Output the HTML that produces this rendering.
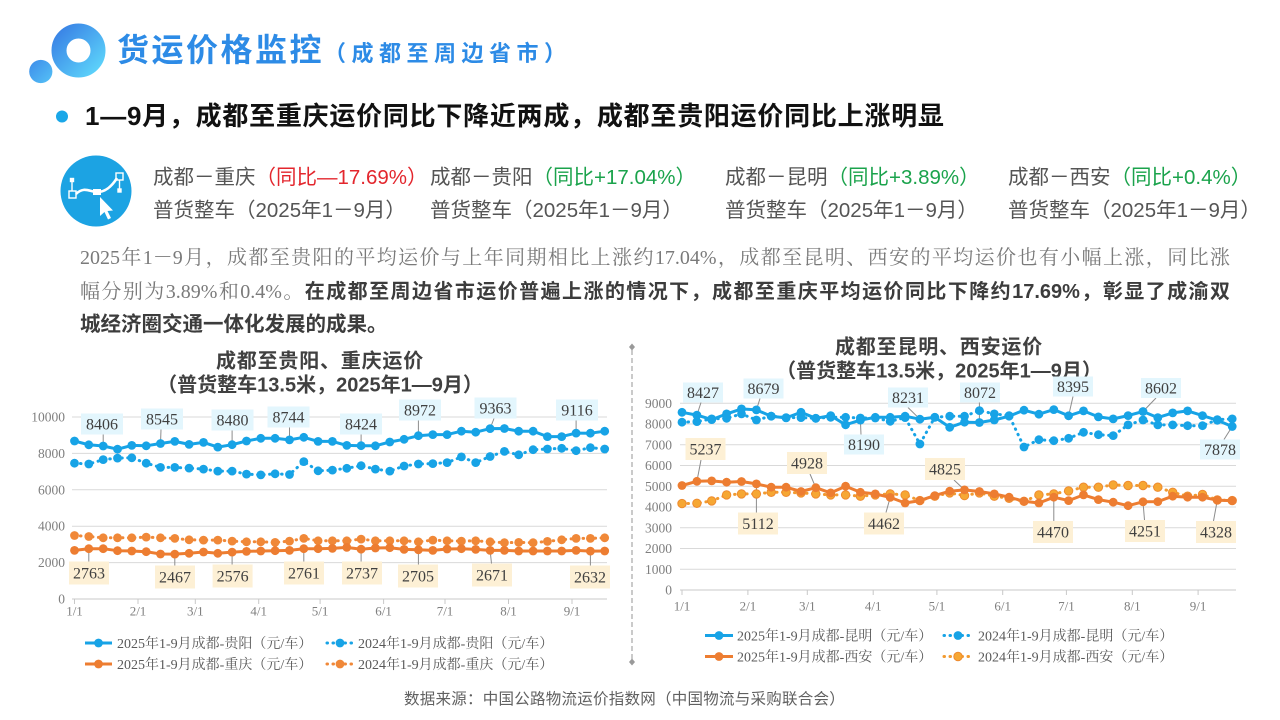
<!DOCTYPE html>
<html><head><meta charset="utf-8"><style>
body{margin:0;background:#fff}
#p{position:relative;width:1280px;height:720px;overflow:hidden;background:#fff;font-family:"Liberation Sans","Noto Sans CJK SC",sans-serif}
.a{position:absolute;white-space:nowrap}
.info{font-size:20.5px;line-height:26px;color:#555}
.red{color:#E3262D}.grn{color:#1BA34C}
.par{position:absolute;left:80px;width:1150px;font-size:20px;line-height:30px;white-space:nowrap}
.rg{font-family:"Liberation Serif","Noto Serif CJK SC",serif;color:#7a7a7a}
.bd{font-family:"Liberation Sans","Noto Sans CJK SC",sans-serif;font-weight:bold;color:#3c3c3c}
</style></head><body><div id="p">
<svg width="1280" height="720" style="position:absolute;left:0;top:0" xmlns="http://www.w3.org/2000/svg">
<defs>
<linearGradient id="g1" x1="0" y1="0" x2="1" y2="1"><stop offset="0" stop-color="#3A84E6"/><stop offset="1" stop-color="#5CD2FA"/></linearGradient>
<linearGradient id="g2" x1="0" y1="0" x2="1" y2="1"><stop offset="0" stop-color="#3D8CEA"/><stop offset="1" stop-color="#55C2F6"/></linearGradient>
<marker id="mB" viewBox="0 0 10 10" refX="5" refY="5" markerWidth="10" markerHeight="10" markerUnits="userSpaceOnUse"><circle cx="5" cy="5" r="4.4" fill="#17A3E6"/></marker>
<marker id="mO" viewBox="0 0 10 10" refX="5" refY="5" markerWidth="10" markerHeight="10" markerUnits="userSpaceOnUse"><circle cx="5" cy="5" r="4.4" fill="#ED7D31"/></marker>
<marker id="mOl" viewBox="0 0 10 10" refX="5" refY="5" markerWidth="10" markerHeight="10" markerUnits="userSpaceOnUse"><circle cx="5" cy="5" r="4.4" fill="#F08838"/></marker>
<marker id="mOr" viewBox="0 0 10 10" refX="5" refY="5" markerWidth="10" markerHeight="10" markerUnits="userSpaceOnUse"><circle cx="5" cy="5" r="4.2" fill="#F6A733" stroke="#EE8A2F" stroke-width="1"/></marker>
</defs>

<!-- logo -->
<circle cx="78.5" cy="50.5" r="19.5" fill="none" stroke="url(#g1)" stroke-width="15"/>
<circle cx="40.8" cy="71.5" r="11.6" fill="url(#g2)"/>
<circle cx="62" cy="116.5" r="6" fill="#1AA7E8"/>

<!-- info icon -->
<circle cx="96" cy="191" r="35.5" fill="#1CA3E3"/>
<g stroke="#fff" fill="none" stroke-width="1.4">
<path d="M76 194 C 84 186, 90 192, 97 192 C 106 192, 112 186, 117 178" stroke-width="2.6"/>
<line x1="72" y1="182" x2="72" y2="191"/>
<rect x="69" y="191" width="7" height="7"/>
<rect x="70.5" y="178.5" width="3" height="3" fill="#fff"/>
<rect x="116" y="173" width="7" height="7"/>
<line x1="119.5" y1="180" x2="119.5" y2="189"/>
<rect x="118" y="189" width="3" height="3" fill="#fff"/>
</g>
<rect x="93" y="189" width="8" height="6" fill="#fff"/>
<polygon points="100,197 100,216 104.5,212 108,219.5 111,218 107.5,211 113,210.5" fill="#fff"/>

<!-- divider -->
<line x1="632" y1="350" x2="632" y2="659" stroke="#A6A6A6" stroke-width="1.2" stroke-dasharray="5 3"/>
<polygon points="632,343.5 635,347 632,350.5 629,347" fill="#999"/>
<polygon points="632,658.5 635,662 632,665.5 629,662" fill="#999"/>

<!-- LEFT CHART -->
<g font-family="Liberation Sans, Noto Sans CJK SC, sans-serif" font-weight="bold" font-size="20" fill="#404040" text-anchor="middle">
<text x="320" y="367.5" letter-spacing="0.8">成都至贵阳、重庆运价</text>
<text x="320" y="391.5">（普货整车13.5米，2025年1—9月）</text>
<text x="939" y="353.5" letter-spacing="0.8">成都至昆明、西安运价</text>
<text x="939" y="377.5">（普货整车13.5米，2025年1—9月）</text>
</g>
<g stroke="#D9D9D9" stroke-width="1">
<line x1="72" y1="417" x2="607" y2="417"/>
<line x1="72" y1="453.4" x2="607" y2="453.4"/>
<line x1="72" y1="489.8" x2="607" y2="489.8"/>
<line x1="72" y1="526.2" x2="607" y2="526.2"/>
<line x1="72" y1="562.6" x2="607" y2="562.6"/>
</g>
<g stroke="#C8C8C8" stroke-width="1">
<line x1="72" y1="599" x2="607" y2="599"/>
<line x1="74.5" y1="599" x2="74.5" y2="604"/><line x1="138" y1="599" x2="138" y2="604"/><line x1="195.3" y1="599" x2="195.3" y2="604"/><line x1="258.7" y1="599" x2="258.7" y2="604"/><line x1="320.1" y1="599" x2="320.1" y2="604"/><line x1="383.6" y1="599" x2="383.6" y2="604"/><line x1="445" y1="599" x2="445" y2="604"/><line x1="508.5" y1="599" x2="508.5" y2="604"/><line x1="572" y1="599" x2="572" y2="604"/>
</g>
<g font-family="Liberation Serif, serif" font-size="13.5" fill="#7F7F7F" text-anchor="end">
<text x="65" y="421.5">10000</text><text x="65" y="457.9">8000</text><text x="65" y="494.3">6000</text><text x="65" y="530.7">4000</text><text x="65" y="567.1">2000</text><text x="65" y="603.5">0</text>
</g>
<g font-family="Liberation Serif, serif" font-size="13" fill="#7F7F7F" text-anchor="middle">
<text x="74.5" y="615.5">1/1</text><text x="138" y="615.5">2/1</text><text x="195.3" y="615.5">3/1</text><text x="258.7" y="615.5">4/1</text><text x="320.1" y="615.5">5/1</text><text x="383.6" y="615.5">6/1</text><text x="445" y="615.5">7/1</text><text x="508.5" y="615.5">8/1</text><text x="572" y="615.5">9/1</text>
</g>
<!-- left leaders -->
<g stroke="#8C8C8C" stroke-width="1">
<line x1="103.2" y1="434.5" x2="103.2" y2="446"/><line x1="161" y1="429.5" x2="160.5" y2="443.5"/><line x1="232.1" y1="430.5" x2="232.1" y2="444.7"/><line x1="289.5" y1="427.5" x2="289.5" y2="439.9"/><line x1="361.1" y1="434.5" x2="361.1" y2="445.7"/><line x1="418.4" y1="420.5" x2="418.4" y2="435.7"/><line x1="494" y1="418.5" x2="490.1" y2="428.6"/><line x1="576.1" y1="420.5" x2="576.1" y2="433.1"/>
<line x1="88.8" y1="548.7" x2="88.8" y2="561.5"/><line x1="174.8" y1="554.1" x2="174.8" y2="565.5"/><line x1="232.1" y1="552.1" x2="232.1" y2="564.5"/><line x1="303.8" y1="548.7" x2="303.8" y2="561.5"/><line x1="361.1" y1="549.2" x2="361.1" y2="561.5"/><line x1="418.4" y1="549.8" x2="418.4" y2="564.5"/><line x1="490.1" y1="550.4" x2="491.5" y2="563.5"/><line x1="590.4" y1="551.1" x2="590.4" y2="565.5"/>
</g>
<g fill="none" stroke-linejoin="round">
<polyline stroke="#F08838" stroke-width="3" stroke-dasharray="0.5 5.5" stroke-linecap="round" marker-start="url(#mOl)" marker-mid="url(#mOl)" marker-end="url(#mOl)" points="74.5,535.5 88.8,536.5 103.2,537.8 117.5,537.8 131.8,537.8 146.2,537.1 160.5,537.8 174.8,538.4 189.1,539.8 203.5,540.1 217.8,540.1 232.1,541.1 246.5,541.8 260.8,541.8 275.1,542.4 289.5,541.1 303.8,538.4 318.1,540.8 332.4,540.8 346.8,540.8 361.1,539.1 375.4,540.8 389.8,540.8 404.1,540.8 418.4,541.8 432.8,540.1 447.1,540.8 461.4,541.1 475.7,540.8 490.1,541.8 504.4,542.7 518.7,542.4 533.1,542.7 547.4,541.4 561.7,539.8 576.1,538.4 590.4,538.4 604.7,537.8"/>
<polyline stroke="#ED7D31" stroke-width="3" marker-start="url(#mO)" marker-mid="url(#mO)" marker-end="url(#mO)" points="74.5,550.4 88.8,548.7 103.2,548.7 117.5,550.7 131.8,551.0 146.2,551.7 160.5,554.0 174.8,554.1 189.1,553.3 203.5,552.0 217.8,553.3 232.1,552.1 246.5,551.4 260.8,551.0 275.1,550.7 289.5,550.4 303.8,548.7 318.1,548.7 332.4,548.4 346.8,547.4 361.1,549.2 375.4,548.0 389.8,547.7 404.1,549.4 418.4,549.8 432.8,550.4 447.1,549.0 461.4,548.7 475.7,549.4 490.1,550.4 504.4,550.4 518.7,551.0 533.1,551.0 547.4,551.0 561.7,551.0 576.1,550.4 590.4,551.1 604.7,551.0"/>
<polyline stroke="#17A3E6" stroke-width="3" stroke-dasharray="0.5 5.5" stroke-linecap="round" marker-start="url(#mB)" marker-mid="url(#mB)" marker-end="url(#mB)" points="74.5,463.2 88.8,464.0 103.2,459.6 117.5,458.1 131.8,457.8 146.2,463.2 160.5,467.4 174.8,467.4 189.1,468.1 203.5,469.1 217.8,471.1 232.1,471.1 246.5,474.1 260.8,474.9 275.1,473.8 289.5,474.5 303.8,461.6 318.1,470.8 332.4,470.1 346.8,468.3 361.1,465.7 375.4,469.1 389.8,471.1 404.1,466.0 418.4,464.0 432.8,463.6 447.1,462.6 461.4,456.9 475.7,462.6 490.1,456.5 504.4,451.4 518.7,454.8 533.1,449.7 547.4,449.0 561.7,448.3 576.1,450.7 590.4,447.7 604.7,449.0"/>
<polyline stroke="#17A3E6" stroke-width="3" marker-start="url(#mB)" marker-mid="url(#mB)" marker-end="url(#mB)" points="74.5,441.0 88.8,444.8 103.2,446.0 117.5,449.2 131.8,445.4 146.2,445.8 160.5,443.5 174.8,441.4 189.1,444.4 203.5,442.4 217.8,447.1 232.1,444.7 246.5,441.0 260.8,438.3 275.1,438.3 289.5,439.9 303.8,437.3 318.1,441.4 332.4,441.4 346.8,445.4 361.1,445.7 375.4,445.8 389.8,442.0 404.1,439.3 418.4,435.7 432.8,434.6 447.1,434.6 461.4,431.2 475.7,432.2 490.1,428.6 504.4,428.5 518.7,431.2 533.1,431.2 547.4,436.6 561.7,436.6 576.1,433.1 590.4,433.2 604.7,431.2"/>
</g>
<g fill="#E3F6FD">
<rect x="81" y="413.5" width="42" height="21"/><rect x="141" y="408.5" width="42" height="21"/><rect x="211.5" y="409.5" width="42" height="21"/><rect x="267.5" y="406.5" width="42" height="21"/><rect x="340" y="413.5" width="42" height="21"/><rect x="399" y="399.5" width="42" height="21"/><rect x="474.5" y="397.5" width="42" height="21"/><rect x="556" y="399.5" width="42" height="21"/>
</g>
<g fill="#FDF0D5">
<rect x="69" y="561.5" width="40" height="23"/><rect x="155" y="565.5" width="40" height="23"/><rect x="212.6" y="564.5" width="40" height="23"/><rect x="284" y="561.5" width="40" height="23"/><rect x="342" y="561.5" width="40" height="23"/><rect x="398" y="564.5" width="40" height="23"/><rect x="472" y="563.5" width="40" height="23"/><rect x="570" y="565.5" width="40" height="23"/>
</g>
<g font-family="Liberation Serif, serif" font-size="16" fill="#404040" text-anchor="middle">
<text x="102" y="429.5">8406</text><text x="162" y="424.5">8545</text><text x="232.5" y="425.5">8480</text><text x="288.5" y="422.5">8744</text><text x="361" y="429.5">8424</text><text x="420" y="415.5">8972</text><text x="495.5" y="413.5">9363</text><text x="577" y="415.5">9116</text>
<text x="89" y="578.5">2763</text><text x="175" y="582.5">2467</text><text x="232.6" y="581.5">2576</text><text x="304" y="578.5">2761</text><text x="362" y="578.5">2737</text><text x="418" y="581.5">2705</text><text x="492" y="580.5">2671</text><text x="590" y="582.5">2632</text>
</g>
<!-- left legend -->
<line x1="85" y1="643" x2="112" y2="643" stroke="#17A3E6" stroke-width="3"/><circle cx="98.5" cy="643" r="4.4" fill="#17A3E6"/>
<line x1="327" y1="643" x2="353" y2="643" stroke="#17A3E6" stroke-width="3" stroke-dasharray="0.5 5.5" stroke-linecap="round"/><circle cx="340" cy="643" r="4.4" fill="#17A3E6"/>
<line x1="85" y1="664" x2="112" y2="664" stroke="#ED7D31" stroke-width="3"/><circle cx="98.5" cy="664" r="4.4" fill="#ED7D31"/>
<line x1="327" y1="664" x2="353" y2="664" stroke="#F08838" stroke-width="3" stroke-dasharray="0.5 5.5" stroke-linecap="round"/><circle cx="340" cy="664" r="4.4" fill="#F08838"/>
<g font-family="Liberation Serif, Noto Serif CJK SC, serif" font-size="14" fill="#595959">
<text x="117" y="648">2025年1-9月成都-贵阳（元/车）</text><text x="358" y="648">2024年1-9月成都-贵阳（元/车）</text>
<text x="117" y="669">2025年1-9月成都-重庆（元/车）</text><text x="358" y="669">2024年1-9月成都-重庆（元/车）</text>
</g>

<!-- RIGHT CHART -->
<g stroke="#D9D9D9" stroke-width="1">
<line x1="680" y1="403.25" x2="1236" y2="403.25"/><line x1="680" y1="424" x2="1236" y2="424"/><line x1="680" y1="444.75" x2="1236" y2="444.75"/><line x1="680" y1="465.5" x2="1236" y2="465.5"/><line x1="680" y1="486.25" x2="1236" y2="486.25"/><line x1="680" y1="507" x2="1236" y2="507"/><line x1="680" y1="527.75" x2="1236" y2="527.75"/><line x1="680" y1="548.5" x2="1236" y2="548.5"/><line x1="680" y1="569.25" x2="1236" y2="569.25"/>
</g>
<g stroke="#C8C8C8" stroke-width="1">
<line x1="680" y1="590" x2="1236" y2="590"/>
<line x1="682" y1="590" x2="682" y2="595"/><line x1="747.9" y1="590" x2="747.9" y2="595"/><line x1="807.3" y1="590" x2="807.3" y2="595"/><line x1="873.2" y1="590" x2="873.2" y2="595"/><line x1="936.9" y1="590" x2="936.9" y2="595"/><line x1="1002.7" y1="590" x2="1002.7" y2="595"/><line x1="1066.4" y1="590" x2="1066.4" y2="595"/><line x1="1132.3" y1="590" x2="1132.3" y2="595"/><line x1="1198.1" y1="590" x2="1198.1" y2="595"/>
</g>
<g font-family="Liberation Serif, serif" font-size="13.5" fill="#7F7F7F" text-anchor="end">
<text x="672" y="407.75">9000</text><text x="672" y="428.5">8000</text><text x="672" y="449.25">7000</text><text x="672" y="470">6000</text><text x="672" y="490.75">5000</text><text x="672" y="511.5">4000</text><text x="672" y="532.25">3000</text><text x="672" y="553">2000</text><text x="672" y="573.75">1000</text><text x="672" y="594.5">0</text>
</g>
<g font-family="Liberation Serif, serif" font-size="13" fill="#7F7F7F" text-anchor="middle">
<text x="682" y="610.5">1/1</text><text x="747.9" y="610.5">2/1</text><text x="807.3" y="610.5">3/1</text><text x="873.2" y="610.5">4/1</text><text x="936.9" y="610.5">5/1</text><text x="1002.7" y="610.5">6/1</text><text x="1066.4" y="610.5">7/1</text><text x="1132.3" y="610.5">8/1</text><text x="1198.1" y="610.5">9/1</text>
</g>
<g stroke="#8C8C8C" stroke-width="1">
<line x1="701" y1="402.5" x2="696.9" y2="415.1"/><line x1="760" y1="398.5" x2="756.4" y2="409.9"/><line x1="861" y1="434.5" x2="860.4" y2="420.1"/><line x1="908" y1="407.5" x2="919.9" y2="419.2"/><line x1="979.4" y1="402.5" x2="979.4" y2="422.5"/><line x1="1073" y1="396.5" x2="1068.6" y2="415.8"/><line x1="1156" y1="398" x2="1143" y2="411.5"/><line x1="1224" y1="439.5" x2="1232.2" y2="426.5"/>
<line x1="701" y1="460" x2="696.9" y2="481.3"/><line x1="810" y1="474" x2="815.8" y2="487.7"/><line x1="954" y1="480" x2="964.5" y2="489.9"/><line x1="756.4" y1="483.9" x2="756.4" y2="512.5"/><line x1="890.2" y1="497.4" x2="886" y2="512.5"/><line x1="1053.8" y1="497.2" x2="1053.8" y2="521"/><line x1="1143" y1="501.8" x2="1144.5" y2="520"/><line x1="1217.3" y1="500.2" x2="1213.5" y2="521"/>
</g>
<g fill="none" stroke-linejoin="round">
<polyline stroke="#F29A30" stroke-width="3" stroke-dasharray="0.5 5.5" stroke-linecap="round" marker-start="url(#mOr)" marker-mid="url(#mOr)" marker-end="url(#mOr)" points="682,503.6 696.9,503.3 711.7,500.9 726.6,494.9 741.5,493.9 756.4,493.9 771.2,492.3 786.1,492.3 801,492.9 815.8,493.9 830.7,494.9 845.6,494.9 860.4,496.2 875.3,494.9 890.2,493.9 905.1,494.9 919.9,500.6 934.8,496.2 949.7,492.9 964.5,495.6 979.4,492.9 994.3,496.2 1009.1,498.3 1024,501.3 1038.9,494.9 1053.8,493.9 1068.6,490.9 1083.5,487.2 1098.4,487.2 1113.2,484.9 1128.1,485.5 1143,485.5 1157.8,487.2 1172.7,492.3 1187.6,496.2 1202.5,494.5 1217.3,499.9 1232.2,500.6"/>
<polyline stroke="#ED7D31" stroke-width="3" marker-start="url(#mO)" marker-mid="url(#mO)" marker-end="url(#mO)" points="682,485.5 696.9,481.3 711.7,480.9 726.6,482.2 741.5,481.5 756.4,483.9 771.2,487.2 786.1,487.2 801,491.5 815.8,487.7 830.7,492.9 845.6,486.2 860.4,492.3 875.3,493.9 890.2,497.4 905.1,503.0 919.9,500.6 934.8,495.6 949.7,491.2 964.5,489.9 979.4,491.5 994.3,493.9 1009.1,497.2 1024,501.3 1038.9,503.0 1053.8,497.2 1068.6,500.6 1083.5,494.9 1098.4,499.6 1113.2,502.2 1128.1,505.7 1143,501.8 1157.8,501.6 1172.7,496.2 1187.6,497.2 1202.5,497.2 1217.3,500.2 1232.2,500.6"/>
<polyline stroke="#17A3E6" stroke-width="3" stroke-dasharray="0.5 5.5" stroke-linecap="round" marker-start="url(#mB)" marker-mid="url(#mB)" marker-end="url(#mB)" points="682,422.2 696.9,421.6 711.7,418.9 726.6,418.3 741.5,413.9 756.4,420.0 771.2,416.2 786.1,417.6 801,417.6 815.8,418.3 830.7,417.3 845.6,417.3 860.4,418.0 875.3,418.0 890.2,421.3 905.1,417.6 919.9,444.0 934.8,417.3 949.7,416.2 964.5,416.2 979.4,410.6 994.3,413.9 1009.1,415.6 1024,447.0 1038.9,439.7 1053.8,440.7 1068.6,438.3 1083.5,432.3 1098.4,434.7 1113.2,435.6 1128.1,424.9 1143,420.0 1157.8,424.9 1172.7,424.9 1187.6,425.7 1202.5,425.7 1217.3,419.6 1232.2,418.9"/>
<polyline stroke="#17A3E6" stroke-width="3" marker-start="url(#mB)" marker-mid="url(#mB)" marker-end="url(#mB)" points="682,412.3 696.9,415.1 711.7,419.6 726.6,413.9 741.5,408.9 756.4,409.9 771.2,416.2 786.1,417.9 801,412.3 815.8,418.3 830.7,415.6 845.6,424.8 860.4,420.1 875.3,417.3 890.2,417.3 905.1,416.2 919.9,419.2 934.8,417.3 949.7,427.3 964.5,422.2 979.4,422.5 994.3,420.0 1009.1,416.2 1024,410.2 1038.9,414.2 1053.8,409.6 1068.6,415.8 1083.5,410.9 1098.4,416.9 1113.2,418.9 1128.1,415.6 1143,411.5 1157.8,417.6 1172.7,412.9 1187.6,410.9 1202.5,415.6 1217.3,420.3 1232.2,426.5"/>
</g>
<g fill="#E3F6FD">
<rect x="683" y="382.5" width="40" height="20"/><rect x="743.5" y="378.5" width="40" height="20"/><rect x="844" y="434.5" width="40" height="20"/><rect x="888" y="387.5" width="40" height="20"/><rect x="960" y="382.5" width="40" height="20"/><rect x="1053" y="376.5" width="40" height="20"/><rect x="1141" y="378" width="40" height="20"/><rect x="1200" y="439.5" width="40" height="20"/>
</g>
<g fill="#FDF0D5">
<rect x="685.5" y="438" width="40" height="22"/><rect x="787" y="452" width="40" height="22"/><rect x="925" y="458" width="40" height="22"/><rect x="738" y="512.5" width="40" height="22"/><rect x="864" y="512.5" width="40" height="22"/><rect x="1033" y="521" width="40" height="22"/><rect x="1125" y="520" width="40" height="22"/><rect x="1196" y="521" width="40" height="22"/>
</g>
<g font-family="Liberation Serif, serif" font-size="16" fill="#404040" text-anchor="middle">
<text x="703" y="398">8427</text><text x="763.5" y="394">8679</text><text x="864" y="450">8190</text><text x="908" y="403">8231</text><text x="980" y="398">8072</text><text x="1073" y="392">8395</text><text x="1161" y="393.5">8602</text><text x="1220" y="455">7878</text>
<text x="705.5" y="454.5">5237</text><text x="807" y="468.5">4928</text><text x="945" y="474.5">4825</text><text x="758" y="529">5112</text><text x="884" y="529">4462</text><text x="1053" y="537.5">4470</text><text x="1145" y="536.5">4251</text><text x="1216" y="537.5">4328</text>
</g>
<!-- right legend -->
<line x1="705" y1="635.5" x2="733" y2="635.5" stroke="#17A3E6" stroke-width="3"/><circle cx="719" cy="635.5" r="4.4" fill="#17A3E6"/>
<line x1="944" y1="635.5" x2="972" y2="635.5" stroke="#17A3E6" stroke-width="3" stroke-dasharray="0.5 5.5" stroke-linecap="round"/><circle cx="958" cy="635.5" r="4.4" fill="#17A3E6"/>
<line x1="705" y1="656.5" x2="733" y2="656.5" stroke="#ED7D31" stroke-width="3"/><circle cx="719" cy="656.5" r="4.4" fill="#ED7D31"/>
<line x1="944" y1="656.5" x2="972" y2="656.5" stroke="#F29A30" stroke-width="3" stroke-dasharray="0.5 5.5" stroke-linecap="round"/><circle cx="958" cy="656.5" r="4.2" fill="#F6A733" stroke="#EE8A2F"/>
<g font-family="Liberation Serif, Noto Serif CJK SC, serif" font-size="14" fill="#595959">
<text x="737" y="640.5">2025年1-9月成都-昆明（元/车）</text><text x="978" y="640.5">2024年1-9月成都-昆明（元/车）</text>
<text x="737" y="661.5">2025年1-9月成都-西安（元/车）</text><text x="978" y="661.5">2024年1-9月成都-西安（元/车）</text>
</g>
</svg>

<div class="a" style="left:117px;top:30px;line-height:40px;font-weight:bold;color:#2D8BE6;font-size:32px;letter-spacing:2.5px">货运价格监控<span style="font-size:22px;letter-spacing:5.5px">（成都至周边省市）</span></div>

<div class="a" style="left:85px;top:98px;line-height:36px;font-size:26px;font-weight:bold;color:#111;letter-spacing:0.75px">1—9月，成都至重庆运价同比下降近两成，成都至贵阳运价同比上涨明显</div>

<div class="a info" style="left:153px;top:165px">成都－重庆<span class="red">（同比—17.69%）</span></div>
<div class="a info" style="left:430px;top:165px">成都－贵阳<span class="grn">（同比+17.04%）</span></div>
<div class="a info" style="left:725px;top:165px">成都－昆明<span class="grn">（同比+3.89%）</span></div>
<div class="a info" style="left:1008px;top:165px">成都－西安<span class="grn">（同比+0.4%）</span></div>
<div class="a info" style="left:153px;top:198px">普货整车（2025年1－9月）</div>
<div class="a info" style="left:430px;top:198px">普货整车（2025年1－9月）</div>
<div class="a info" style="left:725px;top:198px">普货整车（2025年1－9月）</div>
<div class="a info" style="left:1008px;top:198px">普货整车（2025年1－9月）</div>

<div class="par rg" style="top:243px;text-align:justify;text-align-last:justify">2025年1－9月，成都至贵阳的平均运价与上年同期相比上涨约17.04%，成都至昆明、西安的平均运价也有小幅上涨，同比涨</div>
<div class="par" style="top:277px;text-align:justify;text-align-last:justify"><span class="rg">幅分别为3.89%和0.4%。</span><span class="bd">在成都至周边省市运价普遍上涨的情况下，成都至重庆平均运价同比下降约17.69%，彰显了成渝双</span></div>
<div class="par" style="top:310px"><span class="bd" style="font-size:20.5px">城经济圈交通一体化发展的成果。</span></div>

<div class="a" style="left:404px;top:690px;line-height:20px;font-size:15.5px;color:#606060;letter-spacing:0.25px">数据来源：中国公路物流运价指数网（中国物流与采购联合会）</div>
</div></body></html>
